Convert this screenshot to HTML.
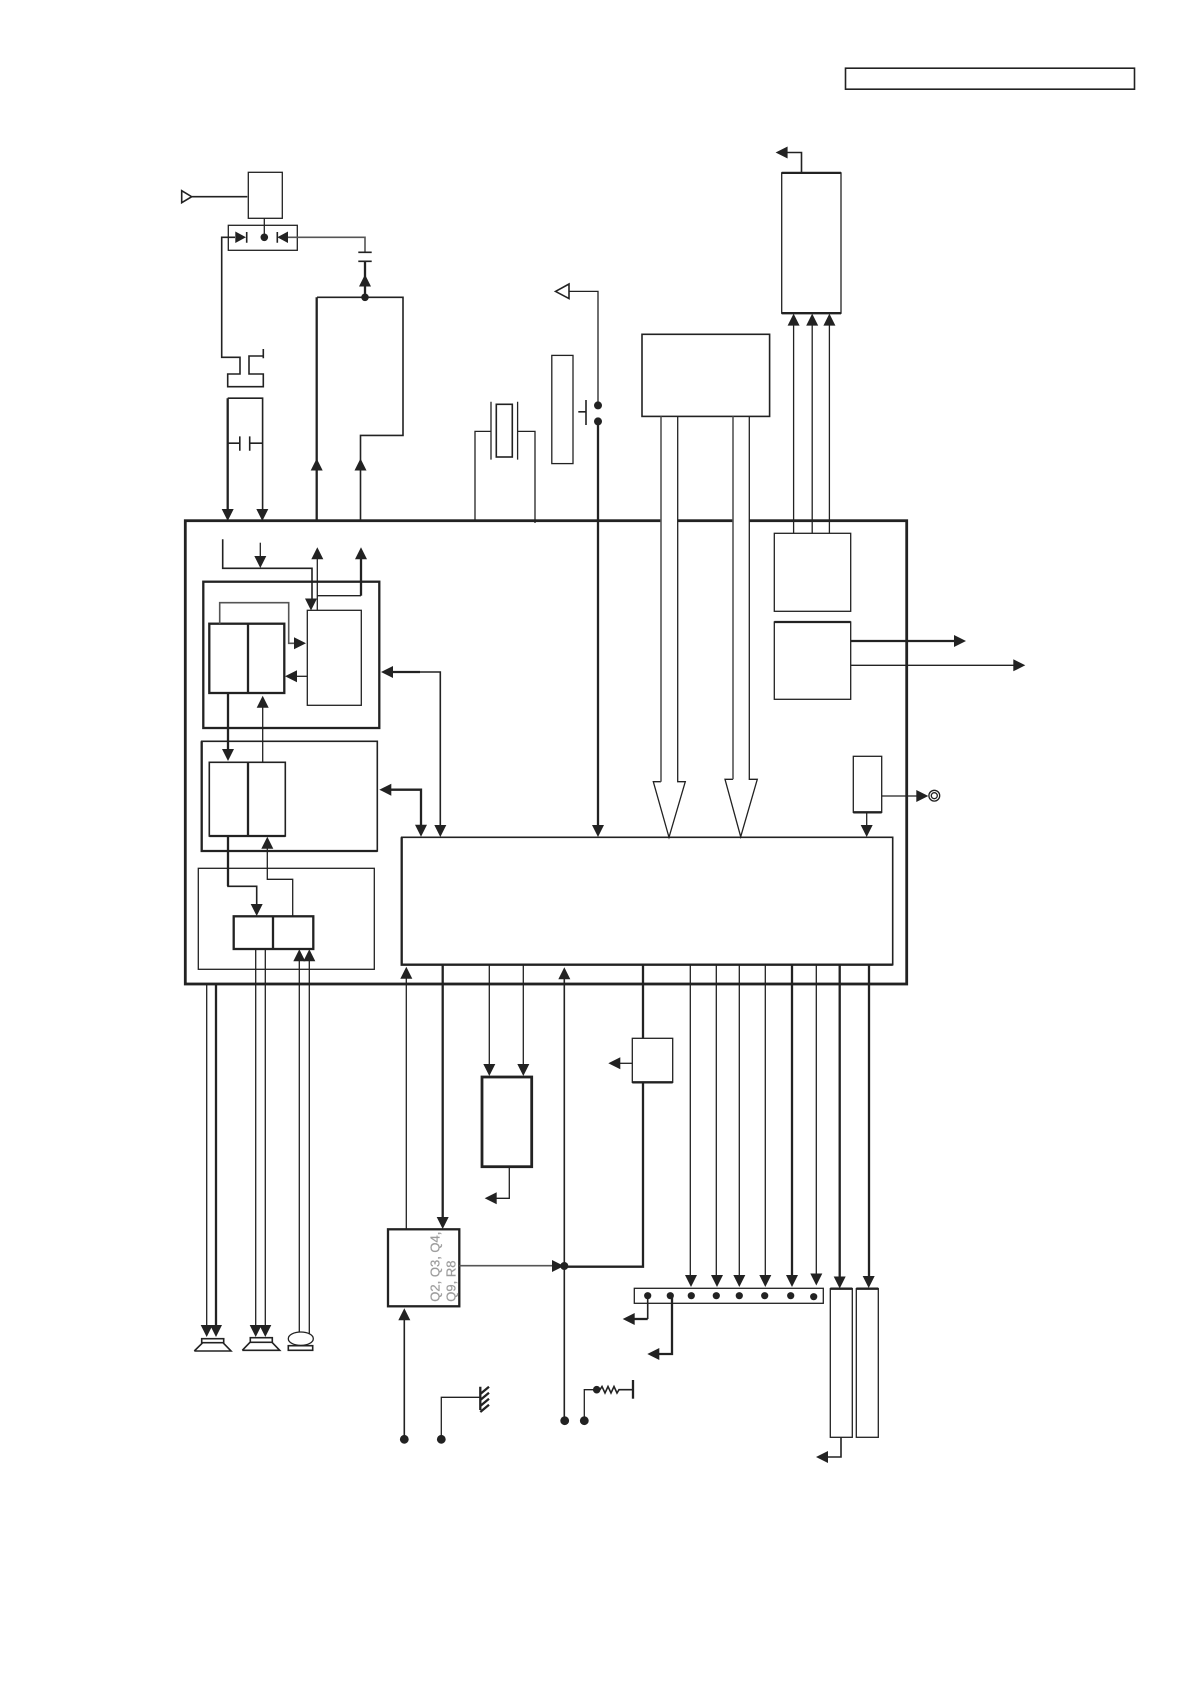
<!DOCTYPE html>
<html lang="en"><head><meta charset="utf-8"><title>Block diagram</title>
<style>
html,body{margin:0;padding:0;background:#fff}
svg{display:block}
.t{fill:none;stroke:#222;stroke-width:1.3}
.m{fill:none;stroke:#222;stroke-width:1.6}
.b{fill:none;stroke:#222;stroke-width:2.3}
.f{fill:none;stroke:#222;stroke-width:2.8}
.g{fill:none;stroke:#555;stroke-width:1.6}
.w{fill:#fff;stroke:#222;stroke-width:1.3}
text{font-family:"Liberation Sans",sans-serif;font-size:13px;fill:#999;stroke:#aaa;stroke-width:.3}
</style></head><body>
<svg xmlns="http://www.w3.org/2000/svg" width="1190" height="1684" viewBox="0 0 1190 1684">
<defs>
<path id="d" d="M0 0L-6-12H6Z" fill="#222"/>
<path id="u" d="M0 0L-6 12H6Z" fill="#222"/>
<path id="l" d="M0 0L12-6V6Z" fill="#222"/>
<path id="r" d="M0 0L-12-6V6Z" fill="#222"/>
</defs>
<rect width="1190" height="1684" fill="#fff"/>

<!-- title box -->
<rect class="m" x="845.5" y="68.2" width="289" height="21"/>

<!-- top-left -->
<rect class="t" x="248.3" y="172.3" width="34" height="46"/>
<path class="m" d="M181.7 190.7V202.7L191.7 196.7ZM191.7 196.7H247.3"/>
<rect class="t" x="228.3" y="225.3" width="69" height="25"/>
<path class="t" d="M264.3 218.3V237.3"/>
<path d="M235.3 231.5V243L246 237.3Z M288 231.5V243L277.3 237.3Z" fill="#222"/>
<path class="m" d="M246.7 232V242.7M277.3 232V242.7"/>
<circle cx="264.3" cy="237.3" r="3.8" fill="#222"/>
<path class="m" d="M235 237.3H221.7V357.3H240V374H227.7V386.7H263.3V374H249V356H263.3M263.3 349V358.3"/>
<path class="g" d="M288 237.3H365V252.3"/>
<path class="m" d="M358.3 252.3H371.7M358.3 261.3H371.7"/>
<path class="b" d="M365 261.3V297.3"/>
<use href="#u" x="365" y="274.5"/>
<circle cx="365" cy="297.3" r="3.8" fill="#222"/>
<path class="m" d="M360.5 520V435.4H403V297.3H317"/>
<path class="b" d="M316.7 520V297.3"/>
<use href="#u" x="316.7" y="458.5"/>
<use href="#u" x="360.5" y="458.5"/>

<!-- capacitor loop -->
<path class="m" d="M262.6 510V398.2H227.7"/>
<path class="b" d="M227.7 398.2V510"/>
<path class="m" d="M227.7 443.2H239.8M249.7 443.2H262.6M239.8 436.4V450.7M249.7 436.4V450.7"/>
<use href="#d" x="227.7" y="521"/>
<use href="#d" x="262.3" y="521"/>

<!-- crystal -->
<path class="t" d="M475 521V431.4H491M517.6 431.4H535V523"/>
<rect class="m" x="496.3" y="404.3" width="16" height="52.7"/>
<path class="t" d="M491 401.8V459.6M517.6 401.8V459.6"/>
<rect class="t" x="551.8" y="355.4" width="21.2" height="108.2"/>
<path class="m" d="M586 400V425M578.3 411.8H586"/>
<circle cx="598" cy="405.4" r="4" fill="#222"/>
<circle cx="598" cy="421.4" r="4" fill="#222"/>
<path class="t" d="M598 405V291.4H569"/>
<path class="m" d="M555.5 291.4L569 284V298.6Z"/>

<!-- frame -->
<rect class="f" x="185.3" y="520.7" width="721.4" height="463.3"/>
<path class="b" d="M598 421.4V826"/>
<use href="#d" x="598" y="837"/>

<!-- big box -->
<rect class="m" x="642" y="334.3" width="127.6" height="82.1"/>

<!-- hollow arrows -->
<path d="M661 417.4H677.7V781.7H685.3L669 837.3L653.3 781.7H661Z" fill="#fff" stroke="none"/>
<path d="M733 417.4H749.3V779.3H757.3L740.7 836.7L725 779.3H733Z" fill="#fff" stroke="none"/>
<path class="t" d="M677.7 416.4V781.7H685.3L669 837.3L653.3 781.7H661"/>
<path class="g" d="M661 416.4V781.7"/>
<path class="t" d="M749.3 416.4V779.3H757.3L740.7 836.7L725 779.3H733"/>
<path class="g" d="M733 416.4V779.3"/>

<!-- top right -->
<rect class="t" x="781.7" y="172.9" width="59.3" height="140.3"/>
<path class="b" d="M781.7 172.9H841M781.7 313.2H841"/>
<path class="m" d="M801.5 172.9V152.5H785"/>
<use href="#l" x="775.6" y="152.5"/>
<path class="t" d="M793.6 533.3V320M812.2 533.3V320M829.4 533.3V320"/>
<use href="#u" x="793.6" y="313.6"/>
<use href="#u" x="812.2" y="313.6"/>
<use href="#u" x="829.4" y="313.6"/>
<rect class="t" x="774.3" y="533.3" width="76.4" height="78"/>
<rect class="t" x="774.3" y="622" width="76.4" height="77.3"/>
<path class="b" d="M774.3 622H850.7M850.7 641H956"/>
<use href="#r" x="966" y="641"/>
<path class="t" d="M850.7 665.3H1015"/>
<use href="#r" x="1025.3" y="665.3"/>
<rect class="t" x="853.3" y="756.3" width="28.4" height="56"/>
<path class="b" d="M853.3 812.3H881.7"/>
<path class="t" d="M881.7 796H920"/>
<use href="#r" x="928.3" y="796"/>
<circle class="t" cx="934.3" cy="795.7" r="5.4"/>
<circle class="t" cx="934.3" cy="795.7" r="3"/>
<path class="t" d="M866.7 812.3V828"/>
<use href="#d" x="866.7" y="837"/>

<!-- main IC box -->
<rect class="m" x="401.7" y="837.3" width="491" height="127.4"/>
<path class="b" d="M401.7 837.3V964.7H892.7"/>

<!-- left inner stacks -->
<path class="m" d="M222.7 539.3V568.3H312V600"/>
<use href="#d" x="311" y="610.5"/>
<path class="t" d="M260.3 542.7V560"/>
<use href="#d" x="260.3" y="568"/>
<path class="t" d="M317.3 552V610.3"/>
<use href="#u" x="317.3" y="547.3"/>
<path class="b" d="M361 552V595.7"/>
<path class="t" d="M361 595.7H317.3"/>
<use href="#u" x="361" y="547.3"/>

<rect class="b" x="203.3" y="581.7" width="176" height="146.3"/>
<rect class="b" x="209.3" y="623.7" width="75" height="69.3"/>
<path class="b" d="M248 623.7V693"/>
<rect class="t" x="307.3" y="610.3" width="54" height="95"/>
<path class="g" d="M219.7 623.7V602.7H288.7V643.3H296"/>
<use href="#r" x="306" y="643.3"/>
<path class="t" d="M307.3 676.3H294"/>
<use href="#l" x="285" y="676.3"/>
<path class="b" d="M228 693V750"/>
<use href="#d" x="228" y="761"/>
<path class="t" d="M262.7 762.3V704"/>
<use href="#u" x="262.7" y="695.7"/>

<rect class="m" x="201.7" y="741.3" width="175.6" height="109.7"/>
<path class="b" d="M201.7 741.3V851H377.3"/>
<rect class="m" x="209.3" y="762.3" width="76" height="73.7"/>
<path class="b" d="M248 762.3V836M209.3 836H285.3"/>

<path class="b" d="M390 672H420"/>
<path class="m" d="M420 672H440.3V826"/>
<use href="#l" x="381" y="672"/>
<use href="#d" x="440.3" y="837"/>
<path class="b" d="M390 789.7H421V826"/>
<use href="#l" x="379.3" y="789.7"/>
<use href="#d" x="421" y="836.7"/>

<rect class="t" x="198.3" y="868.3" width="176" height="101"/>
<rect class="b" x="233.7" y="916.3" width="79.6" height="32.7"/>
<path class="b" d="M273 916.3V949"/>
<path class="m" d="M228 836V886.3H256.7V905"/>
<path class="b" d="M228 836V886"/>
<use href="#d" x="256.7" y="916"/>
<path class="t" d="M267.3 845V879.3H292.7V916.3"/>
<use href="#u" x="267.3" y="836.7"/>

<!-- speakers & mic -->
<path class="t" d="M206.7 984V1326"/>
<path class="b" d="M216 984V1326"/>
<use href="#d" x="206.7" y="1337"/>
<use href="#d" x="216" y="1337"/>
<path class="t" d="M255.7 949V1326M265.3 949V1326"/>
<use href="#d" x="255.7" y="1337"/>
<use href="#d" x="265.3" y="1337"/>
<path class="t" d="M299.3 958V1334M309.3 958V1334"/>
<use href="#u" x="299.3" y="949.3"/>
<use href="#u" x="309.3" y="949.3"/>
<rect class="m" x="201.7" y="1338.7" width="22" height="4"/>
<path class="m" d="M194.3 1351H231L223 1342.7M202.7 1342.7L194.3 1351"/>
<rect class="m" x="250.3" y="1337.7" width="22" height="4.6"/>
<path class="m" d="M242.3 1350.3H279.7L272 1342.3M250 1342.3L242.3 1350.3"/>
<ellipse class="w" cx="300.8" cy="1338.7" rx="12.5" ry="6.7"/>
<rect class="m" x="288.3" y="1345.7" width="24.4" height="4.6"/>

<!-- Q block -->
<rect class="b" x="388" y="1229.3" width="71.3" height="77"/>
<path class="t" d="M406.3 1229.3V975"/>
<use href="#u" x="406.3" y="966.7"/>
<path class="b" d="M442.7 965V1220"/>
<use href="#d" x="442.7" y="1229"/>
<text transform="translate(439.5 1301.7) rotate(-90)">Q2, Q3, Q4,</text>
<text transform="translate(455.5 1301.7) rotate(-90)">Q9, R8</text>
<path class="g" d="M459.3 1265.7H555"/>
<use href="#r" x="564" y="1266"/>

<!-- memory box -->
<path class="t" d="M489.3 965V1066M523.3 965V1066"/>
<use href="#d" x="489.3" y="1076"/>
<use href="#d" x="523.3" y="1076"/>
<rect class="f" x="482" y="1077" width="49.7" height="89.7"/>
<path class="t" d="M509.3 1166.7V1198.3H494"/>
<use href="#l" x="484.7" y="1198.3"/>

<path class="m" d="M564.3 975V1420.7"/>
<use href="#u" x="564.3" y="967.3"/>
<circle cx="564.3" cy="1266" r="4" fill="#222"/>
<path class="b" d="M564.3 1266.7H643V965"/>
<rect class="w" x="632.3" y="1038.3" width="40.4" height="44"/>
<path class="b" d="M632.3 1082.3H672.7"/>
<path class="t" d="M632.3 1063.3H618"/>
<use href="#l" x="608.3" y="1063.3"/>

<!-- bottom dots -->
<path class="m" d="M404.3 1439.3V1318"/>
<use href="#u" x="404.3" y="1308.3"/>
<circle cx="404.3" cy="1439.3" r="4.4" fill="#222"/>
<circle cx="441.3" cy="1439.3" r="4.4" fill="#222"/>
<circle cx="564.7" cy="1420.7" r="4.4" fill="#222"/>
<circle cx="584.3" cy="1420.7" r="4.4" fill="#222"/>
<path class="t" d="M441.3 1439.3V1397.3H480.3"/>
<path class="b" d="M480.3 1386.7V1410M480.3 1394L489 1386.7M480.3 1400L489 1392.7M480.3 1406L489 1398.7M480.3 1412L489 1404.7"/>
<path class="t" d="M584.3 1420.7V1389.7H596.7"/>
<circle cx="596.7" cy="1389.7" r="3.8" fill="#222"/>
<path class="m" d="M600 1389.7L602 1386.5L605 1393L608 1386.5L611 1393L614 1386.5L617 1393L619 1389.7H633"/>
<path class="b" d="M633 1380V1398.7"/>

<!-- bus lines -->
<path class="t" d="M690.3 965V1276M716.3 965V1276M739.3 965V1276M765.3 965V1276M816.3 965V1275"/>
<path class="b" d="M792 965V1276M839.7 965V1278M869 965V1277"/>
<use href="#d" x="691" y="1287"/>
<use href="#d" x="717" y="1287"/>
<use href="#d" x="739.3" y="1287"/>
<use href="#d" x="765.3" y="1287"/>
<use href="#d" x="792" y="1287"/>
<use href="#d" x="816.3" y="1285.5"/>
<use href="#d" x="839.7" y="1288.5"/>
<use href="#d" x="868.7" y="1288"/>

<rect class="t" x="634.3" y="1288.3" width="189" height="15"/>
<g fill="#222">
<circle cx="647.7" cy="1295.7" r="3.6"/><circle cx="670.3" cy="1295.7" r="3.6"/>
<circle cx="691.3" cy="1295.7" r="3.6"/><circle cx="716.3" cy="1295.7" r="3.6"/>
<circle cx="739.3" cy="1295.7" r="3.6"/><circle cx="764.7" cy="1295.7" r="3.6"/>
<circle cx="790.7" cy="1295.7" r="3.6"/><circle cx="813.7" cy="1296.7" r="3.6"/>
</g>
<path class="m" d="M647.7 1296V1319"/>
<path class="b" d="M647.7 1319H632"/>
<use href="#l" x="622.7" y="1319"/>
<path class="b" d="M672 1296V1354H657"/>
<use href="#l" x="647.3" y="1354"/>
<rect class="t" x="830.3" y="1288.7" width="22" height="148.6"/>
<rect class="t" x="856.3" y="1288.7" width="22" height="148.6"/>
<path class="b" d="M830.3 1288.7H852.3M856.3 1288.7H878.3"/>
<path class="m" d="M841 1437.3V1457H826"/>
<use href="#l" x="816" y="1457"/>
</svg>
</body></html>
